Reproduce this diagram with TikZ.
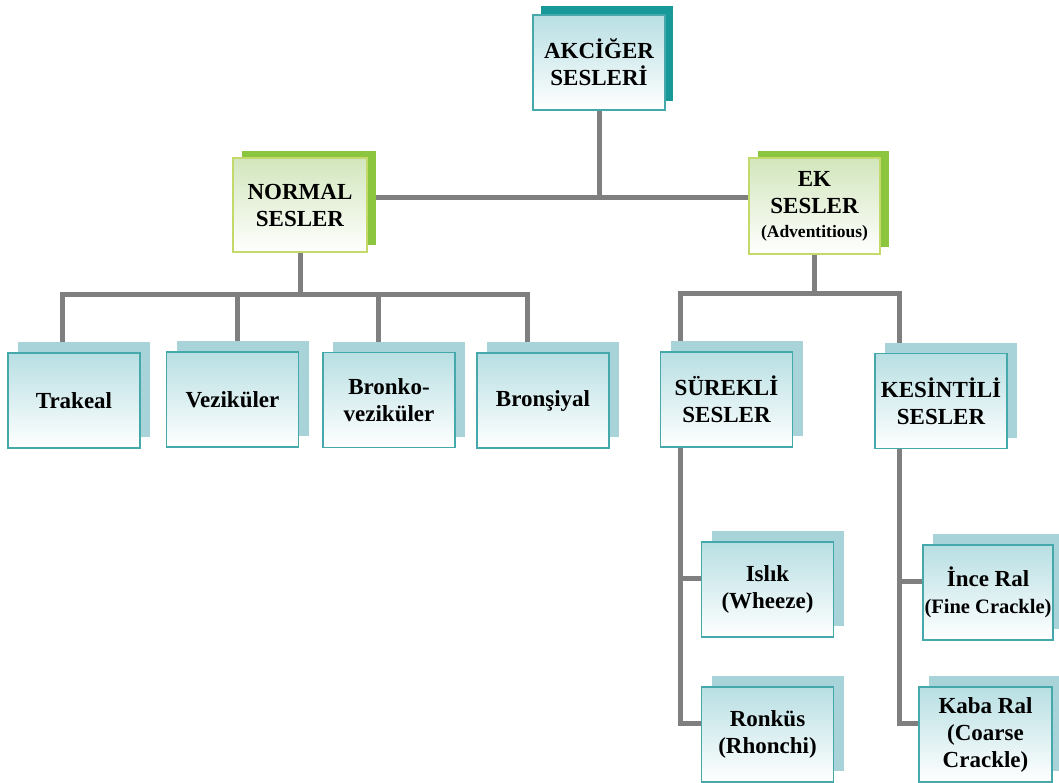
\documentclass[tikz,border=0pt]{standalone}
\usepackage{fontspec}
\setmainfont{Liberation Serif}
\usetikzlibrary{shadows,backgrounds}
\definecolor{tealback}{HTML}{17999A}
\definecolor{tealline}{HTML}{45A9AC}
\definecolor{tealtop}{HTML}{B8DFE3}
\definecolor{leafback}{HTML}{A8D3D8}
\definecolor{greenback}{HTML}{8CC63F}
\definecolor{greenline}{HTML}{C3D96A}
\definecolor{greentop}{HTML}{D2E6BC}
\definecolor{linkgray}{HTML}{7F7F7F}
\begin{document}
\begin{tikzpicture}[x=1pt, y=-1pt,
    box/.style={draw=tealline, line width=1.5pt, top color=tealtop, bottom color=white,
      minimum width=132pt, minimum height=95pt, inner sep=0pt, align=center,
      font=\bfseries\fontsize{23}{27}\selectfont},
    leaf/.style={box, general shadow={fill=leafback, shadow xshift=10pt, shadow yshift=11pt}},
    rootbox/.style={box, general shadow={fill=tealback, shadow xshift=8pt, shadow yshift=9pt}},
    groupbox/.style={box, draw=greenline, top color=greentop,
      general shadow={fill=greenback, shadow xshift=9pt, shadow yshift=7pt}},
    link/.style={draw=linkgray, line width=5pt}]
    \useasboundingbox (0,0) rectangle (1059,782);
    \node[rootbox] (akciger) at (599,62.5){AKCİĞER\\SESLERİ};
    \node[groupbox, minimum width=134pt, minimum height=94pt] (normal) at (300,205){NORMAL\\SESLER};
    \node[groupbox, minimum width=131pt, minimum height=96pt] (ek) at (814.5,206){EK\\SESLER\\[-3pt]{\fontsize{17.5}{20}\selectfont(Adventitious)}};
    \node[leaf] (trakeal) at (74,400.5){Trakeal};
    \node[leaf] (vezikuler) at (232.5,399.5){Veziküler};
    \node[leaf] (bronko) at (389,400){Bronko-\\veziküler};
    \node[leaf] (bronsiyal) at (543,400.5){Bronşiyal};
    \node[leaf] (surekli) at (726.5,399.5){SÜREKLİ\\SESLER};
    \node[leaf] (kesintili) at (941,401){KESİNTİLİ\\SESLER};
    \node[leaf] (islik) at (767.5,589.5){Islık\\(Wheeze)};
    \node[leaf] (ronkus) at (767.5,734.5){Ronküs\\(Rhonchi)};
    \node[leaf, minimum width=130pt] (ince) at (988,592.5){İnce Ral\\{\fontsize{20.5}{24}\selectfont(Fine Crackle)}};
    \node[leaf, minimum width=133pt] (kaba) at (985.5,734.5){Kaba Ral\\(Coarse\\Crackle)};
    \begin{scope}[on background layer]
      \coordinate (tbus) at (599,197);
      \draw[link] (akciger) |- (normal.east |- tbus);
      \draw[link] (tbus) -- (ek.west |- tbus);
      \coordinate (nbus) at (300,294);
      \draw[link] (normal) -- (nbus);
      \draw[link] ([xshift=-12pt]trakeal.center) |- (nbus) -| ([xshift=-16pt]bronsiyal.center);
      \draw[link] ([xshift=5pt]vezikuler.center) |- (nbus);
      \draw[link] ([xshift=-11pt]bronko.center) |- (nbus);
      \coordinate (ebus) at (814.5,293);
      \draw[link] (ek) -- (ebus);
      \draw[link] ([xshift=21pt]surekli.west) |- (ebus) -| ([xshift=25pt]kesintili.west);
      \draw[link] ([xshift=21pt]surekli.west) |- ([yshift=11pt]islik.west);
      \draw[link] ([xshift=21pt]surekli.west) |- ([yshift=11pt]ronkus.west);
      \draw[link] ([xshift=25pt]kesintili.west) |- ([yshift=11pt]ince.west);
      \draw[link] ([xshift=25pt]kesintili.west) |- ([yshift=11pt]kaba.west);
    \end{scope}
  \end{tikzpicture}
\end{document}
